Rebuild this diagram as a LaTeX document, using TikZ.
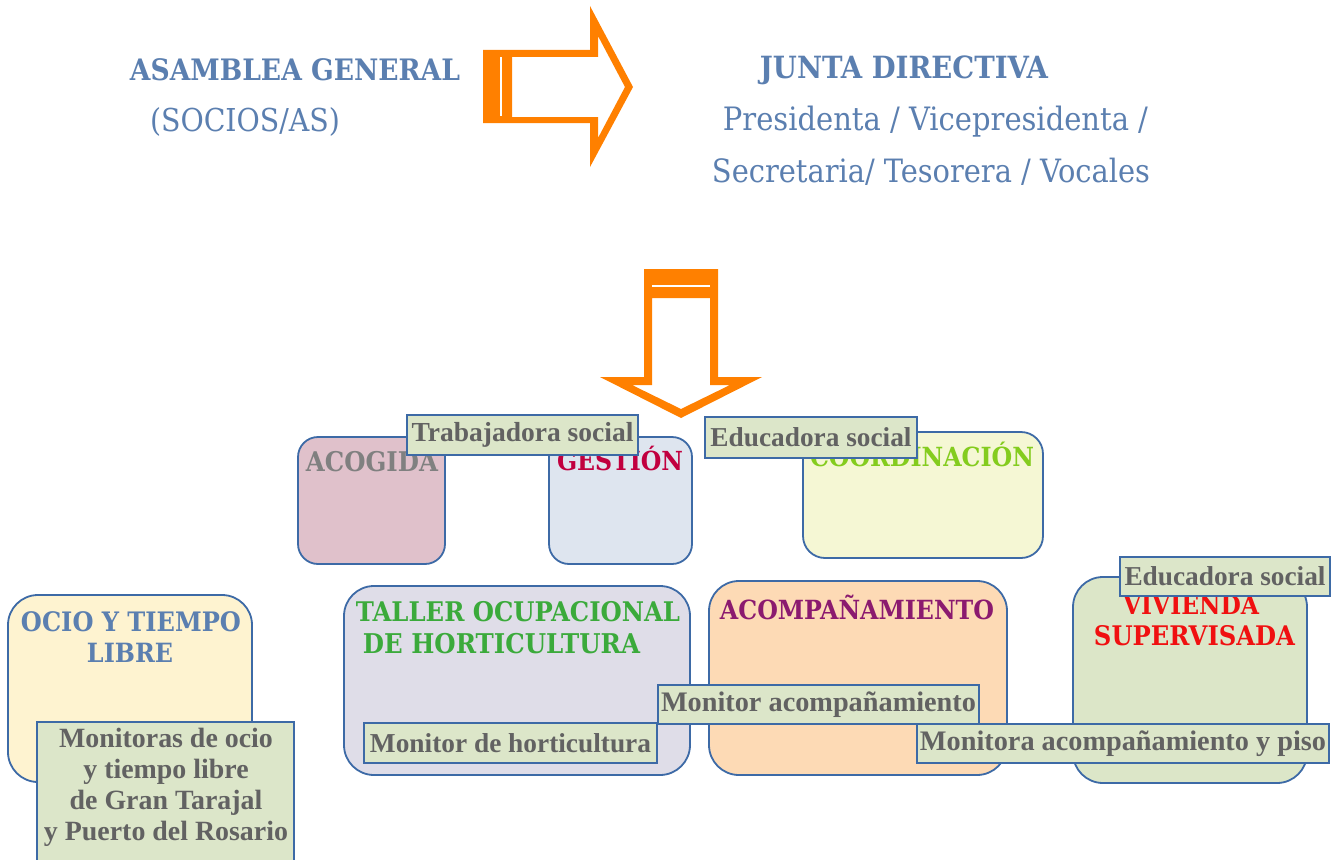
\documentclass[tikz,border=0pt]{standalone}
\usepackage{fontspec}
\setmainfont{DejaVu Serif}
\newfontfamily\condf{DejaVu Serif Condensed}
\newfontfamily\labf{Liberation Serif}
\usepackage{graphicx}
\definecolor{tblue}{HTML}{5B7FB0}
\definecolor{bord}{HTML}{3D6AA6}
\definecolor{labfill}{HTML}{DCE6C9}
\definecolor{labtext}{HTML}{626262}
\definecolor{orng}{HTML}{FF8000}
\definecolor{acofill}{HTML}{E0C1CB}
\definecolor{acotext}{HTML}{808080}
\definecolor{gesfill}{HTML}{DEE5EF}
\definecolor{gestext}{HTML}{C1003F}
\definecolor{coofill}{HTML}{F5F7D4}
\definecolor{cootext}{HTML}{84CC1E}
\definecolor{ociofill}{HTML}{FEF3D0}
\definecolor{talfill}{HTML}{DFDDE8}
\definecolor{taltext}{HTML}{3BAA3B}
\definecolor{acpfill}{HTML}{FDDAB5}
\definecolor{acptext}{HTML}{8B1A6F}
\definecolor{vivfill}{HTML}{DCE6C8}
\definecolor{vivtext}{HTML}{F01010}
\newcommand\fitw[2]{\resizebox{#1pt}{!}{#2}}
\tikzset{
  txt/.style={inner sep=0pt, anchor=center},
  head/.style={inner sep=0pt, anchor=center, font=\condf\bfseries},
  area/.style={draw=bord, line width=1.8pt},
  lab/.style={draw=bord, line width=1.8pt, fill=labfill, inner sep=0pt, text=labtext, font=\labf\bfseries},
}
\begin{document}
\begin{tikzpicture}[x=1pt,y=-1pt]
\useasboundingbox (0,0) rectangle (1335,859);
\fill[white] (0,0) rectangle (1335,859);
% top texts
\node[head, text=tblue] (asam) at (295,70) {\fitw{330}{ASAMBLEA GENERAL}};
\node[txt, text=tblue] (socios) at (245,122) {\fitw{190}{\condf (SOCIOS/AS)}};
\node[head, text=tblue] (junta) at (904,70) {\fitw{288}{JUNTA DIRECTIVA}};
\node[txt, text=tblue] (pres) at (935.5,122) {\fitw{425}{\condf Presidenta / Vicepresidenta /}};
\node[txt, text=tblue] (secr) at (931,172) {\fitw{438}{\condf Secretaria/ Tesorera / Vocales}};
% right arrow
\fill[orng, even odd rule] (483,50) -- (590,50) -- (590,6) -- (633,87) -- (590,167) -- (590,123) -- (483,123) -- cycle
  (512,57) -- (598,57) -- (598,36) -- (625,87) -- (598,138) -- (598,117) -- (512,117) -- cycle;
\fill[orng] (483,50) rectangle (512,123);
\fill[white] (499.5,57) rectangle (501.5,116);
% down arrow
\fill[orng, even odd rule] (644,269) -- (718,269) -- (718,377) -- (762,377) -- (681,418) -- (600,377) -- (644,377) -- cycle
  (652,298) -- (710,298) -- (710,385) -- (730,385) -- (681,409) -- (632,385) -- (652,385) -- cycle;
\fill[orng] (644,269) rectangle (718,298);
\fill[white] (652,285) rectangle (710,287);
% area boxes
\draw[area, fill=acofill, rounded corners=20pt] (298,437) rectangle (445,564);
\draw[area, fill=gesfill, rounded corners=20pt] (549,437) rectangle (692,564);
\draw[area, fill=coofill, rounded corners=22pt] (803,432) rectangle (1043,558);
\draw[area, fill=ociofill, rounded corners=30pt] (8,595) rectangle (252,782);
\draw[area, fill=talfill, rounded corners=30pt] (344,586) rectangle (690,775);
\draw[area, fill=acpfill, rounded corners=30pt] (709,581) rectangle (1007,775);
\draw[area, fill=vivfill, rounded corners=30pt] (1073,577) rectangle (1307,783);
% area titles
\node[head, text=acotext] (acog) at (372,462) {\fitw{132}{ACOGIDA}};
\node[head, text=gestext] (gest) at (620,459) {\fitw{126}{GESTIÓN}};
\node[head, text=cootext] (coord) at (922,454) {\fitw{224}{COORDINACIÓN}};
\node[head, text=tblue] (ocio1) at (131,622) {\fitw{220}{OCIO Y TIEMPO}};
\node[head, text=tblue] (ocio2) at (130,653) {\fitw{86}{LIBRE}};
\node[head, text=taltext] (tal1) at (518,612) {\fitw{324}{TALLER OCUPACIONAL}};
\node[head, text=taltext] (tal2) at (501.5,644) {\fitw{277}{DE HORTICULTURA}};
\node[head, text=acptext] (acp) at (857,607) {\fitw{274}{ACOMPAÑAMIENTO}};
\node[head, text=vivtext] (viv1) at (1191,605) {\fitw{136}{VIVIENDA}};
\node[head, text=vivtext] (viv2) at (1194.5,636) {\fitw{201}{SUPERVISADA}};
% labels
\node[lab, minimum width=231pt, minimum height=40pt] (trab) at (522.5,435) {\fitw{222}{Trabajadora social}};
\node[lab, minimum width=212pt, minimum height=41pt] (edu1) at (811,437.5) {\fitw{201}{Educadora social}};
\node[lab, minimum width=210pt, minimum height=39pt] (edu2) at (1225,576.5) {\fitw{201}{Educadora social}};
\node[lab, minimum width=257pt, minimum height=150pt] (monocio) at (165.5,797) {};
\node[txt, text=labtext, font=\labf\bfseries] (monociot) at (166,788) {\fitw{244}{\renewcommand\arraystretch{0.925}\begin{tabular}{@{}c@{}}Monitoras de ocio\\ y tiempo libre\\ de Gran Tarajal\\ y Puerto del Rosario\end{tabular}}};
\node[lab, minimum width=293pt, minimum height=40pt] (monhor) at (510.5,743) {\fitw{281}{Monitor de horticultura}};
\node[lab, minimum width=321pt, minimum height=39pt] (monacp) at (818.5,704.5) {\fitw{315}{Monitor acompañamiento}};
\node[lab, minimum width=412pt, minimum height=39pt] (monpiso) at (1123,743.5) {\fitw{406}{Monitora acompañamiento y piso}};
\end{tikzpicture}
\end{document}
